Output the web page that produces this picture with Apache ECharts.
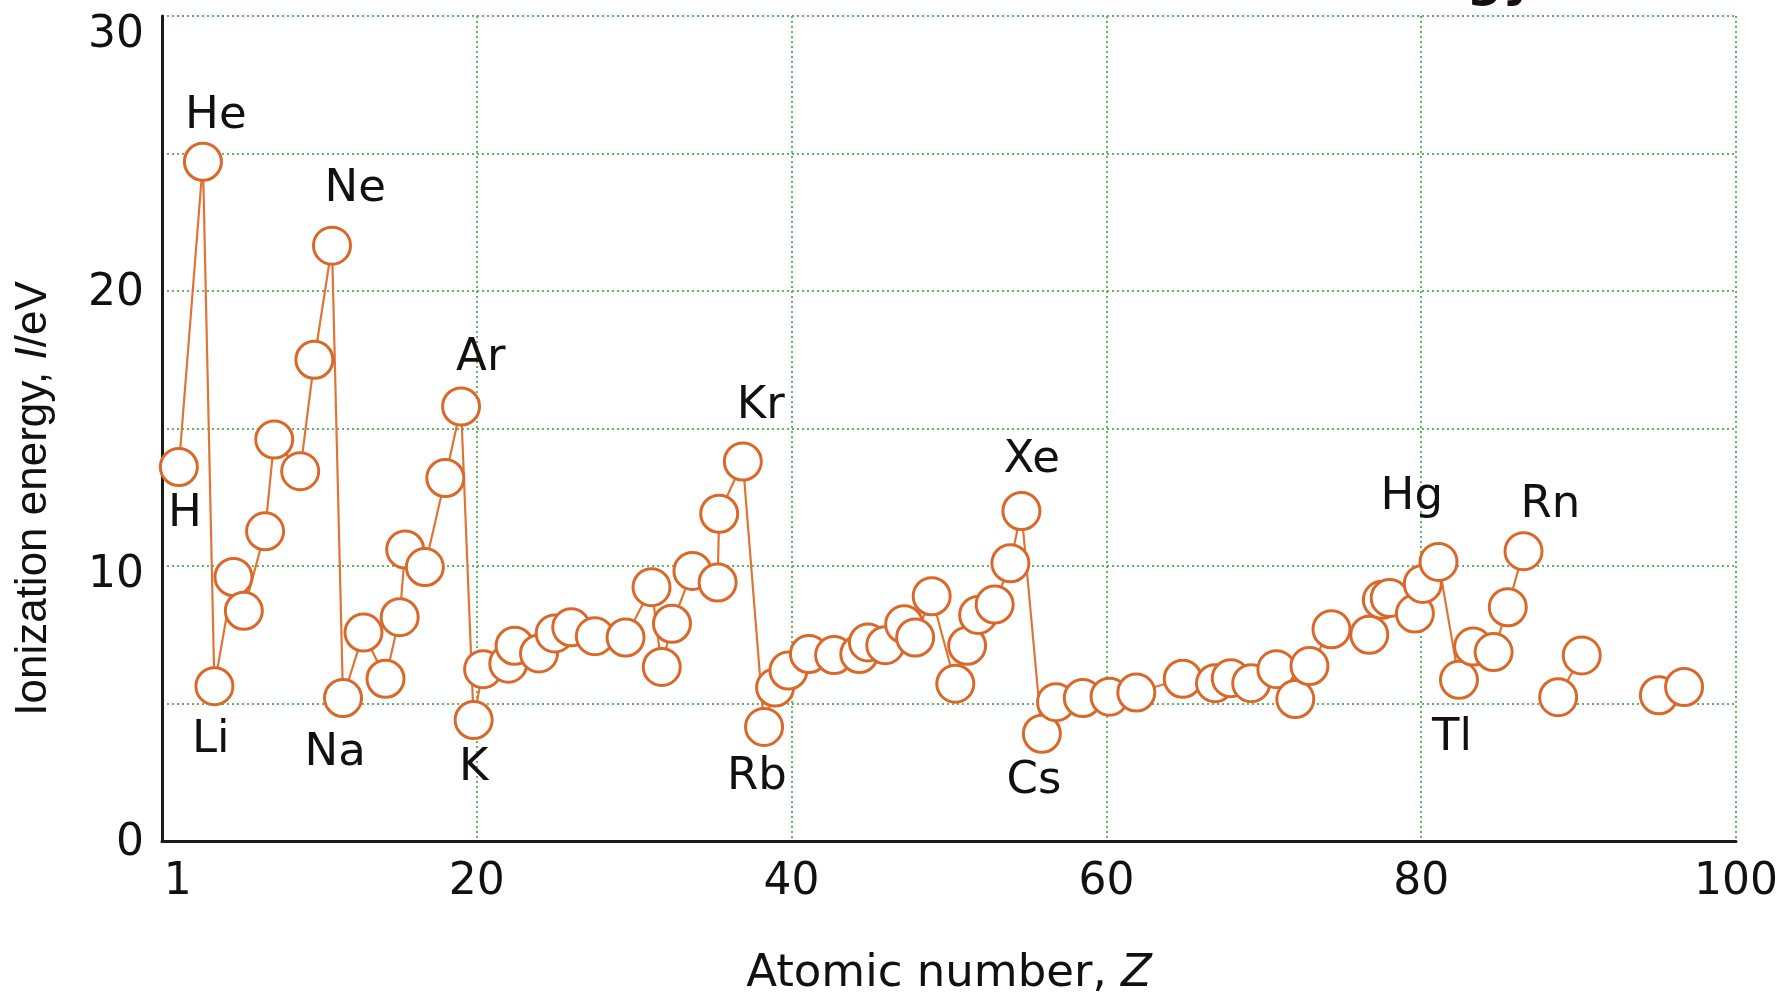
<!DOCTYPE html>
<html>
<head>
<meta charset="utf-8">
<script src="https://cdn.jsdelivr.net/npm/echarts@6/dist/echarts.min.js"></script>
<style>
html,body{margin:0;padding:0;background:#ffffff;}
#chart{width:1781px;height:1002px;}
</style>
</head>
<body>
<div id="chart"></div>
<script>
// Atomic number positions (as plotted) and first ionization energies (eV)
const zMain = [1.07, 2.6, 3.33, 4.54, 5.2, 6.55, 7.13, 8.78, 9.68, 10.8,
  11.5, 12.8, 14.2, 15.1, 15.45, 16.7, 18.0, 19.0, 19.8, 20.4,
  22.0, 22.4, 23.95, 24.95, 26.0, 27.5, 29.45, 31.1, 31.75, 32.4,
  33.7, 35.3, 35.4, 36.9, 38.25, 38.95, 39.8, 41.1, 42.7, 44.3,
  44.85, 45.95, 47.15, 47.85, 48.9, 50.4, 51.15, 51.85, 52.9, 53.9,
  54.6, 55.9, 56.8, 58.5, 60.2, 61.9, 64.85, 66.9, 67.9, 69.2,
  70.8, 72.0, 72.9, 74.3, 76.7, 77.5, 78.0, 79.6, 80.1, 81.1,
  82.4, 83.3, 84.6, 85.5, 86.5];
const ieMain = [13.6, 24.7, 5.63, 9.6, 8.37, 11.26, 14.6, 13.45, 17.5, 21.65,
  5.2, 7.58, 5.9, 8.14, 10.6, 9.96, 13.2, 15.8, 4.4, 6.25,
  6.45, 7.1, 6.82, 7.55, 7.77, 7.45, 7.4, 9.23, 6.33, 7.9,
  9.82, 9.4, 11.9, 13.8, 4.15, 5.58, 6.2, 6.8, 6.76, 6.8,
  7.22, 7.12, 7.88, 7.4, 8.9, 5.72, 7.1, 8.22, 8.6, 10.1,
  12.0, 3.9, 5.05, 5.2, 5.25, 5.4, 5.9, 5.74, 5.92, 5.74,
  6.25, 5.16, 6.36, 7.7, 7.5, 8.77, 8.84, 8.27, 9.35, 10.15,
  5.86, 7.07, 6.87, 8.5, 10.54];
const zRaTh = [88.7, 90.2];
const ieRaTh = [5.23, 6.75];
const zAmCm = [95.1, 96.7];
const ieAmCm = [5.3, 5.6];

// Element annotations (text centre in data coordinates)
const labelNames = ['He', 'Ne', 'Ar', 'Kr', 'Xe', 'Hg', 'Rn', 'H', 'Li', 'Na', 'K', 'Rb', 'Cs', 'Tl'];
const labelZ = [3.42, 12.28, 20.25, 38.04, 55.25, 79.4, 88.2, 1.46, 3.1, 11.0, 19.8, 37.8, 55.4, 81.96];
const labelIE = [26.35, 23.68, 17.55, 15.8, 13.86, 12.5, 12.2, 11.88, 3.65, 3.18, 2.64, 2.31, 2.17, 3.75];

// Tick labels
const xTickLabels = [1, 20, 40, 60, 80, 100];
const yTickLabels = [0, 10, 20, 30];

const pairs = (xs, ys) => xs.map((x, i) => [x, ys[i]]);

const ORANGE = '#d9692a';
const LINE_ORANGE = '#df7535';
const GRID_GREEN = '#5fb85f';
const TEXT = '#111111';
const FONT = '"DejaVu Sans", "Liberation Sans", sans-serif';

function pointSeries(data) {
  return {
    type: 'line',
    data: data,
    symbol: 'circle',
    symbolSize: 37,
    showSymbol: true,
    showAllSymbol: true,
    itemStyle: { color: '#ffffff', borderColor: ORANGE, borderWidth: 3 },
    lineStyle: { color: LINE_ORANGE, width: 2.2 },
    emphasis: { disabled: true },
    silent: true,
    z: 3
  };
}

const chart = echarts.init(document.getElementById('chart'), null, { renderer: 'canvas' });

const option = {
  animation: false,
  backgroundColor: '#ffffff',
  grid: { left: 162, right: 39, top: 16, bottom: 155 },
  xAxis: {
    type: 'value',
    min: 0,
    max: 100,
    interval: 20,
    name: '{a|Atomic number, }{b|Z}',
    nameLocation: 'middle',
    nameGap: 111,
    nameTextStyle: {
      rich: {
        a: { fontSize: 45, fontFamily: FONT, color: TEXT },
        b: { fontSize: 45, fontFamily: FONT, color: TEXT, fontStyle: 'italic' }
      }
    },
    axisLine: { show: true, onZero: false, lineStyle: { color: '#1a1a1a', width: 3 } },
    axisTick: { show: false },
    axisLabel: {
      customValues: xTickLabels,
      margin: 20,
      fontSize: 44,
      fontFamily: FONT,
      color: TEXT
    },
    splitLine: { show: true, lineStyle: { color: GRID_GREEN, width: 2, type: [2, 3] } }
  },
  yAxis: {
    type: 'value',
    min: 0,
    max: 30,
    interval: 5,
    name: '{a|Ionization energy, }{b|I}{a|/eV}',
    nameLocation: 'middle',
    nameRotate: 90,
    nameGap: 106,
    nameTextStyle: {
      padding: [0, 140, 0, 0],
      rich: {
        a: { fontSize: 44, fontFamily: '"Liberation Sans", Arial, sans-serif', color: TEXT },
        b: { fontSize: 44, fontFamily: '"Liberation Sans", Arial, sans-serif', color: TEXT, fontStyle: 'italic' }
      }
    },
    axisLine: { show: true, onZero: false, lineStyle: { color: '#1a1a1a', width: 3 } },
    axisTick: { show: false },
    axisLabel: {
      margin: 18,
      fontSize: 44,
      fontFamily: FONT,
      color: TEXT,
      formatter: function (v) {
        if (yTickLabels.indexOf(v) < 0) return '';
        if (v === 30) return '{t|' + v + '}';
        if (v === 10) return '{m|' + v + '}';
        return '{n|' + v + '}';
      },
      rich: {
        t: { fontSize: 44, fontFamily: FONT, color: TEXT, padding: [40, 0, 0, 0] },
        m: { fontSize: 44, fontFamily: FONT, color: TEXT, padding: [20, 0, 0, 0] },
        n: { fontSize: 44, fontFamily: FONT, color: TEXT, padding: [6, 0, 0, 0] }
      }
    },
    splitLine: { show: true, lineStyle: { color: GRID_GREEN, width: 2, type: [2, 3] } }
  },
  series: [
    pointSeries(pairs(zMain, ieMain)),
    pointSeries(pairs(zRaTh, ieRaTh)),
    pointSeries(pairs(zAmCm, ieAmCm)),
    {
      type: 'scatter',
      data: labelNames.map((n, i) => ({ name: n, value: [labelZ[i], labelIE[i]] })),
      symbolSize: 1,
      itemStyle: { color: 'rgba(0,0,0,0)', opacity: 1 },
      label: {
        show: true,
        position: 'inside',
        formatter: '{b}',
        fontSize: 45,
        fontFamily: FONT,
        color: TEXT,
        opacity: 1
      },
      emphasis: { disabled: true },
      silent: true,
      z: 4
    }
  ],
  graphic: [
    {
      type: 'text',
      x: 1535,
      y: 8,
      style: {
        text: 'Ionization energy',
        font: 'bold 50px "DejaVu Sans"',
        fill: '#111111',
        align: 'right',
        verticalAlign: 'bottom'
      },
      silent: true
    }
  ]
};

chart.setOption(option);
</script>
</body>
</html>
